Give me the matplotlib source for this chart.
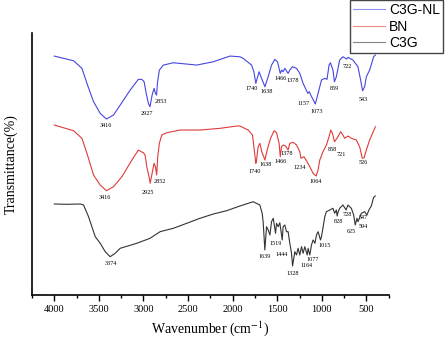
import numpy as np
import matplotlib.pyplot as plt
from matplotlib.ticker import MultipleLocator

plt.rcParams['mathtext.fontset'] = 'stix'

# FTIR spectra (wavenumber, transmittance in arbitrary units, offset per curve)
nl_wn = [4000, 3784, 3690, 3634, 3560, 3485, 3416, 3336, 3261, 3149, 3057, 3019, 2993, 2970,
         2945, 2927, 2903, 2881, 2866, 2853, 2844, 2822, 2777, 2665, 2515, 2403, 2217, 2030,
         1919, 1882, 1788, 1762, 1740, 1725, 1703, 1676, 1638, 1602, 1564, 1527, 1497, 1466,
         1450, 1434, 1415, 1378, 1359, 1329, 1284, 1247, 1210, 1157, 1140, 1124, 1073, 1042,
         1004, 967, 942, 919, 904, 875, 859, 837, 800, 763, 733, 722, 707, 651, 595, 565,
         543, 520, 501, 464, 419, 400]
nl_t = [285, 280.3, 272.7, 257.7, 239.3, 227.7, 222, 226, 236, 251, 261.7, 261.7, 259.3, 248,
        237.7, 234.3, 246, 252.7, 247.7, 246, 257.7, 271, 276, 278.3, 277, 276, 279.3, 285,
        284.3, 282.7, 276, 269.3, 257.7, 262.7, 269.3, 262.7, 254.3, 264.3, 276, 281.7, 279.3, 267.7,
        271, 269.3, 272.7, 267.7, 271, 274.3, 272.7, 267.7, 257.7, 247.7, 249.3, 246, 237, 247.7,
        261, 262.7, 261.7, 276, 278.3, 271, 259.3, 264.3, 281, 284.3, 282.7, 282, 283.7, 281, 274.3, 261,
        250.3, 254.3, 264.3, 271, 284.3, 286]

bn_wn = [4000, 3784, 3690, 3634, 3560, 3485, 3416, 3336, 3242, 3130, 3057, 3026, 3001, 2982,
         2963, 2934, 2925, 2900, 2881, 2866, 2852, 2840, 2822, 2795, 2739, 2590, 2366, 2142,
         1956, 1919, 1826, 1777, 1762, 1740, 1732, 1714, 1695, 1673, 1638, 1613, 1575, 1535,
         1508, 1479, 1466, 1452, 1434, 1407, 1378, 1359, 1322, 1284, 1247, 1234, 1200, 1166,
         1135, 1098, 1064, 1042, 1023, 987, 949, 919, 900, 881, 858, 830, 789, 763, 744, 707,
         669, 613, 576, 546, 526, 501, 464, 400]
bn_t = [216, 210.3, 202.7, 187.7, 166, 156, 150.3, 154.3, 164.3, 181, 191, 189.3, 188.3, 186,
        174.3, 162.7, 157.7, 169.3, 177.7, 174.3, 166, 184.3, 197.7, 206, 208.3, 211, 211, 212.7,
        215, 215, 211, 206, 194.3, 177.7, 181, 194.3, 197.7, 189.3, 181, 191, 202.7, 210.3,
        208.3, 197.7, 184.3, 194.3, 196, 195, 191, 197.7, 198.7, 196, 189.3, 182.7, 184.3, 179.3,
        174.3, 167.7, 165, 171, 181, 189.3, 196, 204.3, 211, 207.7, 199.3, 202.7, 209.3, 206, 202.7, 205,
        202.7, 201, 194.3, 182.7, 183.3, 191, 201, 214.3]

c3g_wn = [4000, 3858, 3709, 3672, 3616, 3541, 3485, 3429, 3374, 3317, 3261, 3075, 2926, 2814,
          2665, 2515, 2366, 2217, 2067, 1919, 1770, 1695, 1669, 1658, 1639, 1620, 1601, 1582,
          1564, 1545, 1519, 1508, 1489, 1471, 1444, 1434, 1415, 1396, 1378, 1359, 1340, 1328,
          1303, 1284, 1266, 1247, 1228, 1210, 1191, 1164, 1154, 1135, 1116, 1098, 1077, 1060,
          1042, 1015, 1004, 985, 967, 949, 911, 875, 856, 837, 828, 818, 800, 763, 728, 707,
          669, 643, 625, 606, 594, 557, 520, 494, 472, 445, 419, 400]
c3g_t = [137, 136.7, 137, 136, 124.3, 104.3, 97.7, 89.3, 84.3, 87.7, 92.7, 97.7, 102.7, 109.3,
         112.7, 117.7, 122.7, 127, 130.3, 135, 139.3, 136, 127.7, 119.3, 91, 114.3, 111, 106,
         119.3, 122.7, 107.7, 117.7, 114.3, 118.3, 101, 114.3, 116, 109.3, 109.3, 97.7, 87.7, 75,
         89.3, 86, 92.7, 86, 94.3, 87.7, 94.3, 86, 92.7, 86, 96, 101, 97.7, 106,
         109.3, 101, 104.3, 114.3, 124.3, 129.3, 131, 132.7, 127.7, 131, 125, 129, 132.7, 136, 131, 136,
         132.7, 126, 116, 122.7, 119.3, 127.7, 129.3, 126, 131, 135, 143.7, 145]

# peak labels: text, x, y
nl_peaks = [("3416", 3421, 215.3), ("2927", 2956, 227.7), ("2853", 2803, 240),
            ("1740", 1788, 252.7), ("1638", 1620, 249.3), ("1466", 1462, 262.7),
            ("1378", 1325, 261), ("1157", 1210, 237.7), ("1073", 1054, 230),
            ("859", 856, 252.7), ("722", 718, 275), ("543", 531, 241.7)]
bn_peaks = [("3416", 3437, 143.7), ("2925", 2956, 148.7), ("2852", 2814, 160),
            ("1740", 1751, 169.3), ("1638", 1628, 177), ("1466", 1463, 180),
            ("1378", 1389, 187.7), ("1234", 1247, 173.7), ("1064", 1068, 160),
            ("858", 881, 191.7), ("721", 777, 186.7), ("526", 531, 178.7)]
c3g_peaks = [("3374", 3362, 77.7), ("1639", 1644, 84.5), ("1519", 1516, 97.7),
             ("1444", 1452, 86.3), ("1328", 1329, 67.7), ("1164", 1169, 75.5),
             ("1077", 1102, 81.5), ("1015", 968, 95.2), ("828", 819, 119.3),
             ("728", 714, 126.5), ("625", 665, 109.3), ("594", 531, 114.5),
             ("547", 531, 123.5)]

fig = plt.figure(figsize=(4.47, 3.41), dpi=100)
ax = fig.add_axes([0.0716, 0.135, 0.798, 0.768])

l1, = ax.plot(nl_wn, nl_t, color='#4646e0', lw=0.8)
l2, = ax.plot(bn_wn, bn_t, color='#e03a3a', lw=0.8)
l3, = ax.plot(c3g_wn, c3g_t, color='#333333', lw=0.8)

for peaks in (nl_peaks, bn_peaks, c3g_peaks):
    for txt, x, y in peaks:
        ax.text(x, y, txt, fontsize=4.4, family='Liberation Serif', ha='center', va='center')

ax.set_xlim(4250, 250)
ax.set_ylim(46, 308)
ax.xaxis.set_minor_locator(MultipleLocator(250))
ax.set_xticks([4000, 3500, 3000, 2500, 2000, 1500, 1000, 500])
ax.tick_params(axis='x', which='major', direction='out', length=4, width=1, labelsize=7.5,
               pad=3)
ax.tick_params(axis='x', which='minor', direction='out', length=2.5, width=1)
ax.set_yticks([])
for lab in ax.get_xticklabels():
    lab.set_family('Liberation Serif')
for s in ('top', 'right'):
    ax.spines[s].set_visible(False)
for s in ('left', 'bottom'):
    ax.spines[s].set_linewidth(1.2)

ax.set_xlabel('Wavenumber (cm$^{-1}$)', family='Liberation Serif', fontsize=10, labelpad=4)
ax.set_ylabel('Transmittance(%)', family='Liberation Serif', fontsize=10, labelpad=10)

leg = fig.legend([l1, l2, l3], ['C3G-NL', 'BN', 'C3G'], loc='upper right',
                 bbox_to_anchor=(0.991, 1.0), fancybox=False, framealpha=1,
                 edgecolor='#444444', prop={'family': 'Liberation Sans', 'size': 10},
                 handlelength=2.3, borderpad=0.2, labelspacing=0.2, handletextpad=0.3,
                 borderaxespad=0)
for h in leg.legend_handles:
    h.set_alpha(0.6)
leg.get_frame().set_linewidth(1)

plt.savefig('out.png', dpi=100)
